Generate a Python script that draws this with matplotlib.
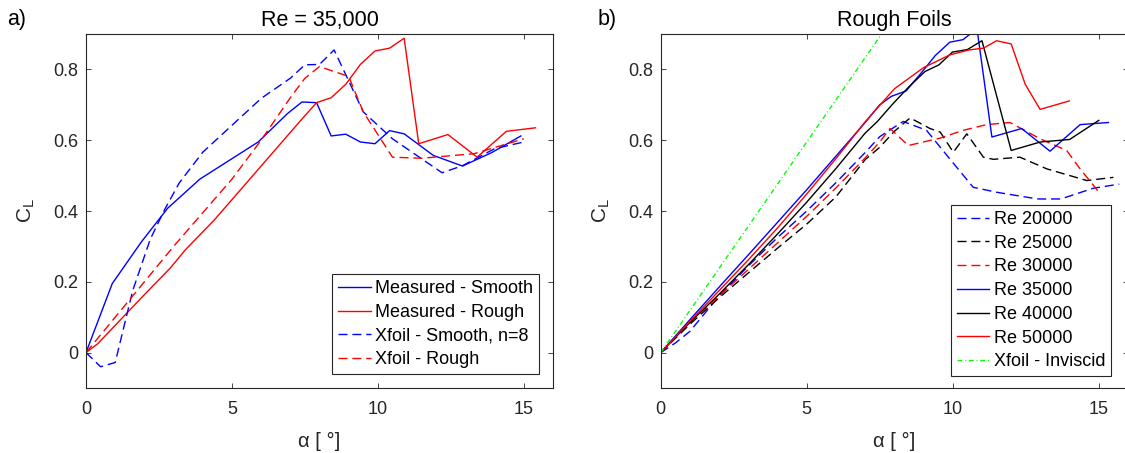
import matplotlib
matplotlib.use('Agg')
import matplotlib.pyplot as plt

plt.rcParams['font.family'] = ['Liberation Sans', 'DejaVu Sans']
plt.rcParams['mathtext.default'] = 'regular'
plt.rcParams['lines.scale_dashes'] = False

# ---- panel a) Re = 35,000 ----
a_meas_smooth = [0, 0.9, 1.9, 2.8, 3.9, 5.9, 6.9, 7.4, 7.9, 8.4, 8.9, 9.4, 9.9,
                 10.4, 10.9, 11.9, 12.9, 13.9, 14.9]
cl_meas_smooth = [0, 0.195, 0.313, 0.408, 0.49, 0.595, 0.675, 0.708, 0.706, 0.612,
                  0.617, 0.595, 0.59, 0.627, 0.618, 0.557, 0.527, 0.565, 0.612]

a_meas_rough = [0, 0.4, 1.9, 2.9, 3.4, 4.4, 5.4, 6.4, 7.4, 7.9, 8.4, 8.9, 9.4,
                9.9, 10.4, 10.9, 11.4, 12.4, 13.4, 14.4, 15.4]
cl_meas_rough = [0, 0.025, 0.155, 0.24, 0.29, 0.375, 0.47, 0.565, 0.66, 0.706,
                 0.72, 0.758, 0.814, 0.852, 0.86, 0.888, 0.59, 0.616, 0.552, 0.625, 0.635]

a_xf_smooth = [0, 0.5, 1.0, 1.6, 2.2, 2.7, 3.2, 4.0, 5.0, 6.0, 7.0, 7.5, 8.0, 8.5,
               9.5, 10.5, 12.2, 12.9, 14.0, 15.0]
cl_xf_smooth = [0, -0.04, -0.028, 0.175, 0.32, 0.405, 0.48, 0.566, 0.642, 0.718,
                0.775, 0.813, 0.814, 0.855, 0.68, 0.604, 0.508, 0.528, 0.576, 0.595]

a_xf_rough = [0, 1, 2, 3, 4, 5, 6, 7, 7.5, 8.0, 9.0, 9.5, 10.5, 11.5, 13.3, 15.0]
cl_xf_rough = [0, 0.1, 0.2, 0.3, 0.395, 0.49, 0.6, 0.72, 0.775, 0.808, 0.78, 0.68,
               0.552, 0.549, 0.562, 0.604]

# ---- panel b) rough foils ----
a_re20 = [0, 0.5, 1, 1.5, 2, 3, 4, 5, 6, 7, 7.5, 8.3, 9.1, 9.9, 10.7, 11.5, 12.9,
          13.7, 14.8, 15.7]
cl_re20 = [0, 0.027, 0.06, 0.11, 0.16, 0.245, 0.325, 0.4, 0.48, 0.565, 0.61, 0.653,
           0.628, 0.547, 0.467, 0.453, 0.434, 0.434, 0.464, 0.476]

a_re25 = [0, 1, 2, 3, 4, 5, 6, 7, 7.5, 8.0, 8.54, 9.22, 9.57, 10.02, 10.48, 11.05,
          11.39, 12.3, 13.22, 14.59, 15.5]
cl_re25 = [0, 0.08, 0.155, 0.225, 0.295, 0.363, 0.44, 0.545, 0.58, 0.625, 0.663,
           0.633, 0.623, 0.566, 0.618, 0.552, 0.546, 0.552, 0.519, 0.486, 0.495]

a_re30 = [0, 1, 2, 3, 4, 5, 6, 7, 7.5, 7.85, 8.48, 9.57, 10.36, 11.16, 11.96, 12.99,
          13.9, 14.36, 14.87, 15.0]
cl_re30 = [0, 0.085, 0.16, 0.235, 0.31, 0.385, 0.465, 0.55, 0.595, 0.633, 0.585,
           0.606, 0.628, 0.644, 0.65, 0.604, 0.571, 0.519, 0.467, 0.453]

a_re35 = [0, 1, 2, 3, 4, 5, 6, 7, 7.5, 7.9, 8.4, 9.0, 9.4, 9.9, 10.35, 10.83,
          11.34, 12.36, 13.33, 14.36, 15.33]
cl_re35 = [0, 0.093, 0.185, 0.276, 0.368, 0.46, 0.555, 0.65, 0.70, 0.724, 0.739,
           0.798, 0.839, 0.877, 0.884, 0.915, 0.609, 0.633, 0.569, 0.644, 0.65]

a_re40 = [0, 1, 2, 3, 4, 5, 6, 7, 7.42, 7.93, 8.5, 9.05, 9.53, 9.99, 10.5, 11.0,
          12.0, 13.0, 14.0, 15.0]
cl_re40 = [0, 0.085, 0.165, 0.248, 0.335, 0.425, 0.52, 0.62, 0.653, 0.701, 0.751,
           0.794, 0.813, 0.849, 0.856, 0.881, 0.571, 0.595, 0.602, 0.656]

a_re50 = [0, 1, 2, 3, 4, 5, 6, 7, 8, 9, 9.9, 10.56, 11.05, 11.5, 12.0, 12.48,
          12.99, 13.99]
cl_re50 = [0, 0.088, 0.175, 0.262, 0.352, 0.448, 0.548, 0.652, 0.745, 0.805, 0.841,
           0.855, 0.86, 0.881, 0.872, 0.758, 0.687, 0.711]

a_invisc = [0, 2, 4, 6, 8, 10]
cl_invisc = [0, 0.238, 0.476, 0.714, 0.952, 1.19]

W, H = 1125, 453
fig = plt.figure(figsize=(W / 100, H / 100), dpi=100)
ax1 = fig.add_axes([86 / W, (H - 388) / H, 467 / W, 354 / H])
ax2 = fig.add_axes([660.7 / W, (H - 388) / H, 467.3 / W, 354 / H])

dash = (0, (6.5, 3.5))
dashdot = (0, (3.5, 2, 0.7, 2))
lw = 1.0

ax1.plot(a_meas_smooth, cl_meas_smooth, color='b', lw=lw, label='Measured - Smooth')
ax1.plot(a_meas_rough, cl_meas_rough, color='r', lw=lw, label='Measured - Rough')
ax1.plot(a_xf_smooth, cl_xf_smooth, color='b', lw=lw, ls=dash, label='Xfoil - Smooth, n=8')
ax1.plot(a_xf_rough, cl_xf_rough, color='r', lw=lw, ls=dash, label='Xfoil - Rough')

ax2.plot(a_re20, cl_re20, color='b', lw=lw, ls=dash, label='Re 20000')
ax2.plot(a_re25, cl_re25, color='k', lw=lw, ls=dash, label='Re 25000')
ax2.plot(a_re30, cl_re30, color='r', lw=lw, ls=dash, label='Re 30000')
ax2.plot(a_re35, cl_re35, color='b', lw=lw, label='Re 35000')
ax2.plot(a_re40, cl_re40, color='k', lw=lw, label='Re 40000')
ax2.plot(a_re50, cl_re50, color='r', lw=lw, label='Re 50000')
ax2.plot(a_invisc, cl_invisc, color='#00ff00', lw=lw, ls=dashdot, label='Xfoil - Inviscid')

grey = '#262626'
for ax in (ax1, ax2):
    ax.set_xlim(0, 16)
    ax.set_ylim(-0.1, 0.9)
    ax.set_xticks([0, 5, 10, 15])
    ax.set_xticklabels(['0', '5', '10', '15'])
    ax.set_yticks([0, 0.2, 0.4, 0.6, 0.8])
    ax.set_yticklabels(['0', '0.2', '0.4', '0.6', '0.8'])
    ax.tick_params(direction='in', top=True, right=True, length=3.6, width=0.6,
                   labelsize=13, colors=grey)
    ax.tick_params(axis='x', pad=9)
    ax.tick_params(axis='y', pad=5.5)
    for s in ax.spines.values():
        s.set_linewidth(0.8)
        s.set_color(grey)
    ax.set_xlabel('α [ °]', fontsize=14.5, color=grey)
    ax.set_ylabel('$C_L$', fontsize=15, color=grey)
    ax.xaxis.set_label_coords(0.5, -0.125)
    ax.yaxis.set_label_coords(-0.105, 0.5)

ax1.set_title('Re = 35,000', fontsize=15.5, pad=6)
ax2.set_title('Rough Foils', fontsize=15.5, pad=6)

leg_kw = dict(fontsize=13, loc='lower right', fancybox=False, framealpha=1,
              edgecolor=grey, handlelength=1.8, handletextpad=0.25,
              labelspacing=0.37, borderpad=0.32, borderaxespad=0)
l1 = ax1.legend(bbox_to_anchor=(0.970, 0.0395), **leg_kw)
l2 = ax2.legend(bbox_to_anchor=(0.964, 0.034), **leg_kw)
for lg in (l1, l2):
    lg.get_frame().set_linewidth(0.8)

fig.text(7 / W, 1 - 19 / H, 'a)', fontsize=15.5, va='center', ha='left')
fig.text(598 / W, 1 - 19 / H, 'b)', fontsize=15.5, va='center', ha='left')

fig.savefig('out.png', dpi=100)
